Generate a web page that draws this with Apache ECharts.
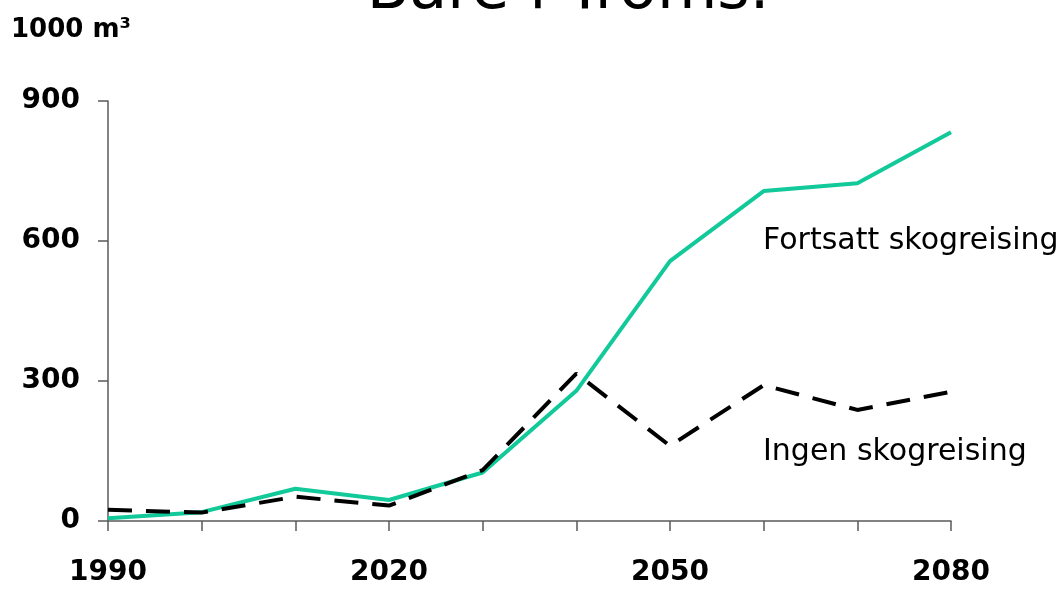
<!DOCTYPE html>
<html>
<head>
<meta charset="utf-8">
<script src="https://cdn.jsdelivr.net/npm/echarts@6/dist/echarts.min.js"></script>
<style>
  html, body { margin: 0; padding: 0; background: #fff; }
  #main { width: 1064px; height: 590px; }
</style>
</head>
<body>
<div id="main"></div>
<script>
var years = ['1990', '2000', '2010', '2020', '2030', '2040', '2050', '2060', '2070', '2080'];
// Fortsatt skogreising
var fortsatt = [6, 19, 69, 45, 104, 279, 557, 707, 724, 833];
// Ingen skogreising
var ingen = [24, 18, 52, 33, 109, 316, 161, 291, 238, 277];
var yTicks = [0, 300, 600, 900];

var myChart = echarts.init(document.getElementById('main'));
var axisColor = '#5a5a5a';
var boldFont = '"DejaVu Sans", sans-serif';
var option = {
    animation: false,
    grid: { left: 108, right: 113, top: 101, bottom: 69 },
    graphic: [
        {
            type: 'text', left: 11, top: 17,
            style: { text: '1000 m³', font: 'bold 26px "DejaVu Sans", sans-serif', fill: '#000' }
        },
        {
            type: 'text', x: 568, y: 23,
            style: { text: 'Bare i Troms.', font: '62px "DejaVu Sans", sans-serif', fill: '#000',
                     align: 'center', verticalAlign: 'bottom' }
        },
        {
            type: 'text', x: 763, y: 241,
            style: { text: 'Fortsatt skogreising', font: '30px "DejaVu Sans", sans-serif', fill: '#000',
                     align: 'left', verticalAlign: 'middle' }
        },
        {
            type: 'text', x: 763, y: 452,
            style: { text: 'Ingen skogreising', font: '30px "DejaVu Sans", sans-serif', fill: '#000',
                     align: 'left', verticalAlign: 'middle' }
        }
    ],
    xAxis: {
        type: 'category',
        data: years,
        boundaryGap: false,
        axisLine: { lineStyle: { color: axisColor, width: 1.5 } },
        axisTick: { show: true, interval: 0, length: 10, lineStyle: { color: axisColor, width: 1.5 } },
        axisLabel: {
            interval: 2, margin: 38, color: '#000',
            fontFamily: boldFont, fontWeight: 'bold', fontSize: 28
        },
        splitLine: { show: false }
    },
    yAxis: {
        type: 'value',
        min: yTicks[0], max: yTicks[yTicks.length - 1], interval: 300,
        axisLine: { show: true, lineStyle: { color: axisColor, width: 1.5 } },
        axisTick: { show: true, length: 10, lineStyle: { color: axisColor, width: 1.5 } },
        axisLabel: {
            margin: 28, color: '#000',
            fontFamily: boldFont, fontWeight: 'bold', fontSize: 28
        },
        splitLine: { show: false }
    },
    series: [
        {
            name: 'Fortsatt skogreising',
            type: 'line',
            data: fortsatt,
            symbol: 'none',
            z: 2,
            lineStyle: { color: '#12c99a', width: 4 }
        },
        {
            name: 'Ingen skogreising',
            type: 'line',
            data: ingen,
            symbol: 'none',
            z: 3,
            lineStyle: { color: '#000', width: 4, type: [24, 14] }
        }
    ]
};
myChart.setOption(option);
</script>
</body>
</html>
